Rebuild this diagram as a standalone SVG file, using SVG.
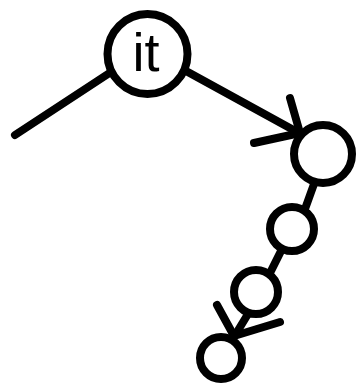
<svg xmlns="http://www.w3.org/2000/svg" width="360" height="384" viewBox="0 0 360 384">
<style>
.node{fill:#fff;stroke:#000;stroke-width:8}
.edge{fill:none;stroke:#000;stroke-width:8;stroke-linecap:round;stroke-linejoin:round}
.lbl{font-family:"Liberation Sans",Arial,sans-serif;font-size:54px;fill:#000;text-anchor:middle}
</style>
<rect width="360" height="384" fill="#fff"/>
<g id="connectors">
<line class="edge" x1="15" y1="135" x2="108" y2="74"/>
<line class="edge" x1="186" y1="71" x2="299" y2="133"/>
<polyline class="edge" points="290,98 300,133 254,143"/>
<line class="edge" x1="314" y1="184" x2="305" y2="209"/>
<line class="edge" x1="281" y1="251" x2="271" y2="271"/>
<line class="edge" x1="248" y1="314" x2="234" y2="337"/>
<polyline class="edge" points="217,305 234,336 280,322"/>
</g>
<g id="n1"><circle class="node" cx="147.5" cy="54" r="40"/><text class="lbl" x="146" y="71">it</text></g>
<g id="n2"><circle class="node" cx="323" cy="154" r="29"/></g>
<g id="n3"><circle class="node" cx="292" cy="229" r="22"/></g>
<g id="n4"><circle class="node" cx="256" cy="292" r="22"/></g>
<g id="n5"><circle class="node" cx="221" cy="358" r="21"/></g>
</svg>
